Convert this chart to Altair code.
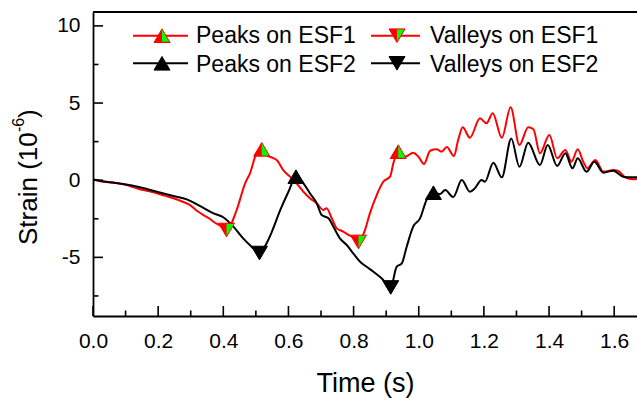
import altair as alt
import pandas as pd

# ---------------- data ----------------
t_esf1 = [0.000, 0.032, 0.060, 0.093, 0.120, 0.144, 0.170, 0.196, 0.220, 0.247,
          0.270, 0.298, 0.320, 0.339, 0.355, 0.370, 0.395, 0.410, 0.441, 0.467,
          0.482, 0.502, 0.518, 0.535, 0.552, 0.564, 0.584, 0.605, 0.625, 0.646,
          0.666, 0.687, 0.707, 0.717, 0.733, 0.748, 0.768, 0.784, 0.800, 0.815,
          0.835, 0.850, 0.871, 0.891, 0.912, 0.922, 0.937, 0.958, 0.983, 0.999,
          1.016, 1.035, 1.055, 1.070, 1.086, 1.108, 1.121, 1.135, 1.157, 1.188,
          1.208, 1.227, 1.255, 1.282, 1.309, 1.336, 1.352, 1.372, 1.401, 1.425,
          1.450, 1.469, 1.488, 1.505, 1.518, 1.542, 1.567, 1.597, 1.613, 1.633,
          1.659, 1.670]
v_esf1 = [0.05, -0.10, -0.15, -0.27, -0.42, -0.59, -0.70, -0.85, -1.00, -1.17,
          -1.35, -1.61, -2.00, -2.26, -2.45, -2.69, -3.01, -3.23, -1.93, -0.20,
          0.45, 1.74, 2.00, 1.60, 1.45, 1.31, 0.66, 0.23, -0.20, -0.75,
          -1.17, -1.50, -1.93, -1.82, -2.47, -3.12, -3.33, -3.55, -3.70, -4.00,
          -3.23, -2.15, -0.96, -0.10, 0.23, 1.09, 1.85, 1.52, 1.78, 1.52,
          1.05, 1.91, 2.00, 1.85, 2.15, 1.57, 2.60, 3.43, 2.75, 4.01,
          3.69, 4.34, 2.75, 4.72, 2.28, 3.43, 3.30, 1.74, 2.93, 1.42,
          1.96, 1.20, 2.00, 1.20, 0.77, 1.31, 0.55, 0.66, 0.60, 0.19,
          0.06, 0.10]

t_esf2 = [0.000, 0.042, 0.093, 0.144, 0.196, 0.247, 0.288, 0.328, 0.370, 0.400,
          0.431, 0.461, 0.487, 0.511, 0.533, 0.548, 0.575, 0.600, 0.623, 0.646,
          0.666, 0.687, 0.702, 0.723, 0.738, 0.758, 0.779, 0.799, 0.820, 0.840,
          0.861, 0.886, 0.914, 0.932, 0.948, 0.963, 0.983, 1.004, 1.024, 1.045,
          1.065, 1.081, 1.106, 1.132, 1.157, 1.172, 1.193, 1.203, 1.229, 1.255,
          1.284, 1.309, 1.336, 1.372, 1.396, 1.425, 1.450, 1.472, 1.488, 1.515,
          1.539, 1.567, 1.597, 1.628, 1.654, 1.670]
v_esf2 = [0.05, -0.10, -0.25, -0.46, -0.75, -1.02, -1.24, -1.67, -2.15, -2.40,
          -3.01, -3.77, -4.31, -4.72, -4.09, -3.40, -1.93, -0.75, 0.23, -0.20,
          -0.85, -1.50, -2.26, -2.47, -3.01, -3.77, -4.20, -4.74, -5.28, -5.61,
          -5.93, -6.36, -6.95, -5.61, -5.39, -4.31, -3.01, -2.47, -1.28, -0.81,
          -0.90, -0.64, -1.09, 0.01, -0.75, -0.53, 0.01, -0.10, 1.13, 0.19,
          2.71, 0.87, 2.43, 0.98, 2.28, 0.92, 1.74, 0.77, 1.42, 0.55,
          1.20, 0.49, 0.62, 0.23, 0.19, 0.19]

peaks1_t = [0.518, 0.937]
peaks1_v = [2.00, 1.85]
valleys1_t = [0.410, 0.815]
valleys1_v = [-3.23, -4.00]
peaks2_t = [0.623, 1.045]
peaks2_v = [0.23, -0.81]
valleys2_t = [0.511, 0.914]
valleys2_v = [-4.72, -6.95]

x_major = [0.0, 0.2, 0.4, 0.6, 0.8, 1.0, 1.2, 1.4, 1.6]
x_minor = [0.1, 0.3, 0.5, 0.7, 0.9, 1.1, 1.3, 1.5]
y_major = [-5, 0, 5, 10]
y_minor = [-7.5, -2.5, 2.5, 7.5]

legend_labels = ["Peaks on ESF1", "Valleys on ESF1", "Peaks on ESF2", "Valleys on ESF2"]
y_title_parts = ["Strain (10", "-6", ")"]

# ---------------- styling ----------------
W, H = 544, 304
FONT = "Liberation Sans"
RED = "#ff0000"
GREEN = "#00ff00"
BLACK = "#000000"

TRI_UP = "M-1,0.85L1,0.85L0,-0.85Z"
TRI_UP_HALF = "M0,-0.85L1,0.85L0,0.85Z"
TRI_DN = "M-1,-0.85L1,-0.85L0,0.85Z"
TRI_DN_HALF = "M0,-0.85L1,-0.85L0,0.85Z"
MSIZE = 256

xscale = alt.Scale(domain=[0, 1.67], nice=False, zero=False)
yscale = alt.Scale(domain=[-8.8, 10.9], nice=False, zero=False)

xaxis = alt.Axis(values=x_major, format=".1f", ticks=False, tickSize=0, grid=False,
                 domainColor=BLACK, domainWidth=1.8,
                 labelFont=FONT, labelFontSize=21, labelColor=BLACK, labelPadding=31,
                 labelBaseline="alphabetic", labelFlush=False, labelOverlap=False,
                 titleFont=FONT, titleFontSize=27, titleFontWeight="normal",
                 titleColor=BLACK, titleY=75, titleBaseline="alphabetic")
yaxis = alt.Axis(values=y_major, labelExpr="toString(datum.value)", ticks=False, tickSize=0,
                 grid=False, domainColor=BLACK, domainWidth=1.8,
                 labelFont=FONT, labelFontSize=21, labelColor=BLACK, labelPadding=13,
                 labelFlush=False, labelOverlap=False)


def X(field="x"):
    return alt.X(f"{field}:Q", scale=xscale, axis=xaxis, title="Time (s)")


def Y(field="y"):
    return alt.Y(f"{field}:Q", scale=yscale, axis=yaxis, title=None)


df1 = pd.DataFrame({"x": t_esf1, "y": v_esf1})
df2 = pd.DataFrame({"x": t_esf2, "y": v_esf2})

line1 = alt.Chart(df1).mark_line(color=RED, strokeWidth=2, interpolate="monotone", clip=True).encode(x=X(), y=Y())
line2 = alt.Chart(df2).mark_line(color=BLACK, strokeWidth=2, interpolate="monotone", clip=True).encode(x=X(), y=Y())


def markers(ts, vs, shape, half, col):
    d = pd.DataFrame({"x": ts, "y": vs})
    base = alt.Chart(d).mark_point(shape=shape, size=MSIZE, filled=True, fill=col, stroke=col,
                                   strokeWidth=1, opacity=1).encode(x=X(), y=Y())
    layers = [base]
    if half:
        layers.append(alt.Chart(d).mark_point(shape=half, size=MSIZE * 0.8, filled=True, fill=GREEN,
                                              strokeWidth=0, opacity=1).encode(x=X(), y=Y()))
    return layers


mk = []
mk += markers(peaks1_t, peaks1_v, TRI_UP, TRI_UP_HALF, RED)
mk += markers(valleys1_t, valleys1_v, TRI_DN, TRI_DN_HALF, RED)
mk += markers(peaks2_t, peaks2_v, TRI_UP, None, BLACK)
mk += markers(valleys2_t, valleys2_v, TRI_DN, None, BLACK)

# inward ticks
xt_major = alt.Chart(pd.DataFrame({"x": x_major})).mark_rule(color=BLACK, strokeWidth=1.6).encode(
    x=X(), y=alt.value(H), y2=alt.value(H - 10))
xt_minor = alt.Chart(pd.DataFrame({"x": x_minor})).mark_rule(color=BLACK, strokeWidth=1.6).encode(
    x=X(), y=alt.value(H), y2=alt.value(H - 5.5))
yt_major = alt.Chart(pd.DataFrame({"y": y_major})).mark_rule(color=BLACK, strokeWidth=1.6).encode(
    y=Y(), x=alt.value(0), x2=alt.value(10))
yt_minor = alt.Chart(pd.DataFrame({"y": y_minor})).mark_rule(color=BLACK, strokeWidth=1.6).encode(
    y=Y(), x=alt.value(0), x2=alt.value(5.5))

dummy = pd.DataFrame({"k": [0]})
top_border = alt.Chart(dummy).mark_rule(color=BLACK, strokeWidth=1.8).encode(
    x=alt.value(0), x2=alt.value(W), y=alt.value(0))

# y-axis title with superscript, drawn as rotated text pieces
ytitle = [
    alt.Chart(dummy).mark_text(angle=270, align="left", baseline="alphabetic", font=FONT,
                               fontSize=26, color=BLACK).encode(
        x=alt.value(-56.5), y=alt.value(233), text=alt.value(y_title_parts[0])),
    alt.Chart(dummy).mark_text(angle=270, align="left", baseline="alphabetic", font=FONT,
                               fontSize=16, color=BLACK).encode(
        x=alt.value(-69), y=alt.value(120), text=alt.value(y_title_parts[1])),
    alt.Chart(dummy).mark_text(angle=270, align="left", baseline="alphabetic", font=FONT,
                               fontSize=26, color=BLACK).encode(
        x=alt.value(-56.5), y=alt.value(106), text=alt.value(y_title_parts[2])),
]

# manual legend (2 x 2)
leg_layers = []
leg_items = [
    (legend_labels[0], RED, TRI_UP, TRI_UP_HALF, 40, 95, 69, 103, 23.7, 31.3),
    (legend_labels[1], RED, TRI_DN, TRI_DN_HALF, 278, 327, 304, 337, 23.7, 31.3),
    (legend_labels[2], BLACK, TRI_UP, None, 40, 95, 69, 103, 51.3, 59.6),
    (legend_labels[3], BLACK, TRI_DN, None, 278, 327, 304, 337, 51.3, 59.6),
]
for lab, col, shp, half, lx0, lx1, mx, tx, ly, ty in leg_items:
    leg_layers.append(alt.Chart(dummy).mark_rule(color=col, strokeWidth=2).encode(
        x=alt.value(lx0), x2=alt.value(lx1), y=alt.value(ly)))
    leg_layers.append(alt.Chart(dummy).mark_point(shape=shp, size=MSIZE, filled=True, fill=col,
                                                  stroke=col, strokeWidth=1, opacity=1).encode(
        x=alt.value(mx), y=alt.value(ly)))
    if half:
        leg_layers.append(alt.Chart(dummy).mark_point(shape=half, size=MSIZE * 0.8, filled=True,
                                                      fill=GREEN, strokeWidth=0, opacity=1).encode(
            x=alt.value(mx), y=alt.value(ly)))
    leg_layers.append(alt.Chart(dummy).mark_text(align="left", baseline="alphabetic", font=FONT,
                                                 fontSize=23, color=BLACK).encode(
        x=alt.value(tx), y=alt.value(ty), text=alt.value(lab)))

chart = alt.layer(
    line1, line2, *mk, xt_major, xt_minor, yt_major, yt_minor, top_border, *ytitle, *leg_layers
).properties(
    width=W, height=H,
    autosize=alt.AutoSizeParams(type="none"),
    padding={"left": 93, "top": 12, "right": 0, "bottom": 82},
    background="white",
).configure_view(stroke=None)

chart.save("out.html", embed_options={"renderer": "svg", "actions": False})
